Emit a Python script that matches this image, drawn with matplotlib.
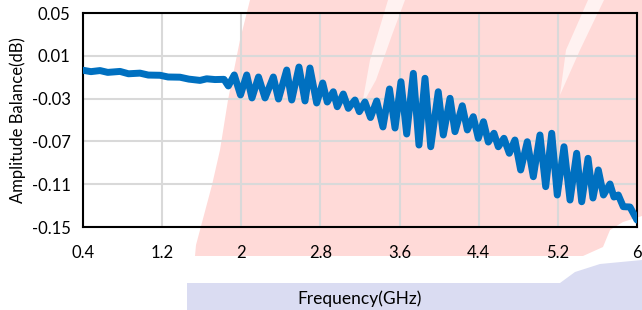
import matplotlib
matplotlib.use("Agg")
import matplotlib.pyplot as plt
from matplotlib.patches import Polygon

plt.rcParams['font.family'] = ['Lato', 'DejaVu Sans']

freq = [0.400, 0.480, 0.572, 0.650, 0.774, 0.860, 0.976, 1.060, 1.178, 1.260,
        1.380, 1.470, 1.583, 1.650, 1.734, 1.825,
        1.869, 1.929, 1.992, 2.055, 2.108, 2.174, 2.240, 2.324, 2.376, 2.459,
        2.510, 2.583, 2.644, 2.694, 2.762, 2.823, 2.869, 2.930, 2.970, 3.031,
        3.082, 3.149, 3.193, 3.250, 3.306, 3.369, 3.432, 3.498, 3.554, 3.614,
        3.672, 3.739, 3.796, 3.857, 3.915, 3.991, 4.042, 4.110, 4.160, 4.234,
        4.285, 4.345, 4.396, 4.448, 4.497, 4.554, 4.598, 4.655, 4.709, 4.766,
        4.824, 4.891, 4.952, 5.019, 5.077, 5.138, 5.194, 5.262, 5.323, 5.390,
        5.441, 5.505, 5.555, 5.609, 5.661, 5.727, 5.767, 5.811, 5.861, 5.929,
        6.000]
balance = [-0.0035, -0.0048, -0.0038, -0.0055, -0.0046, -0.0068, -0.0062, -0.0080, -0.0082, -0.0098,
           -0.0100, -0.0118, -0.0130, -0.0115, -0.0122, -0.0120,
           -0.0182, -0.0079, -0.0266, -0.0079, -0.0294, -0.0098, -0.0294, -0.0098, -0.0304, -0.0033,
           -0.0313, -0.0005, -0.0322, -0.0014, -0.0341, -0.0154, -0.0332, -0.0236, -0.0376, -0.0257,
           -0.0391, -0.0313, -0.0422, -0.0332, -0.0477, -0.0322, -0.0565, -0.0210, -0.0575, -0.0142,
           -0.0631, -0.0064, -0.0734, -0.0110, -0.0750, -0.0236, -0.0640, -0.0297, -0.0609, -0.0367,
           -0.0593, -0.0469, -0.0671, -0.0516, -0.0706, -0.0624, -0.0750, -0.0671, -0.0811, -0.0687,
           -0.0967, -0.0703, -0.1030, -0.0640, -0.1123, -0.0624, -0.1201, -0.0750, -0.1248, -0.0811,
           -0.1264, -0.0858, -0.1229, -0.0967, -0.1201, -0.1098, -0.1220, -0.1201, -0.1310, -0.1313,
           -0.1435]

xticks = [0.4, 1.2, 2, 2.8, 3.6, 4.4, 5.2, 6]
xticklabels = ["0.4", "1.2", "2", "2.8", "3.6", "4.4", "5.2", "6"]
yticks = [0.05, 0.01, -0.03, -0.07, -0.11, -0.15]
yticklabels = ["0.05", "0.01", "-0.03", "-0.07", "-0.11", "-0.15"]

fig = plt.figure(figsize=(6.42, 3.10), dpi=100)

# background tint (in pixel coords of the picture)
bg = fig.add_axes([0, 0, 1, 1], zorder=-1)
bg.set_xlim(0, 642)
bg.set_ylim(310, 0)
bg.axis("off")
pink = [(250, 0), (240, 40), (228, 100), (220, 150), (212, 185), (204, 215),
        (196, 245), (195, 256), (583, 256), (603, 247), (610, 230), (623, 222),
        (642, 216), (642, 0)]
bg.add_patch(Polygon(pink, closed=True, fc="#ffdad8", ec="none"))
bg.add_patch(Polygon([(388, 0), (405, 0), (392, 35), (376, 80), (362, 105), (370, 60)],
                     closed=True, fc="#fff2f1", ec="none"))
bg.add_patch(Polygon([(588, 0), (604, 0), (580, 50), (560, 95), (566, 50)],
                     closed=True, fc="#fff2f1", ec="none"))
lav = [(187, 283), (560, 283), (575, 272), (600, 264), (642, 260), (642, 310), (187, 310)]
bg.add_patch(Polygon(lav, closed=True, fc="#dadcf2", ec="none"))

ax = fig.add_axes([83 / 642, 1 - 227 / 310, 554 / 642, 214 / 310])
ax.set_facecolor("none")
ax.plot(freq, balance, color="#0070c0", lw=5, solid_joinstyle="round", solid_capstyle="round", zorder=3)

ax.set_xlim(0.4, 6)
ax.set_ylim(-0.15, 0.05)
ax.set_xticks(xticks)
ax.set_xticklabels(xticklabels)
ax.set_yticks(yticks)
ax.set_yticklabels(yticklabels)
ax.grid(True, color="#d9d9d9", lw=1.5)
ax.set_axisbelow(True)
ax.tick_params(length=0, labelsize=12)
ax.tick_params(axis="x", pad=13)
ax.tick_params(axis="y", pad=9)
for s in ax.spines.values():
    s.set_color("black")
    s.set_linewidth(1.5)

ax.set_xlabel("Frequency(GHz)", fontsize=12.5, labelpad=21)
ax.set_ylabel("Amplitude Balance(dB)", fontsize=12, labelpad=4)

fig.savefig("out.png", dpi=100)
